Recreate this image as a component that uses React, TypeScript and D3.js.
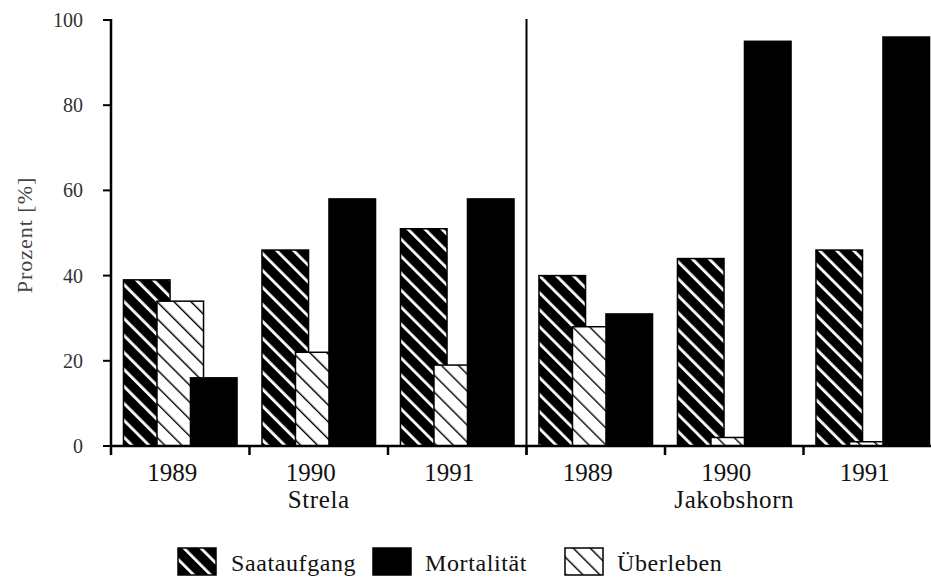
import React from "react";
import * as d3 from "d3";

const years = ["1989", "1990", "1991"];
const sites = ["Strela", "Jakobshorn"];
const categories = ["Strela 1989", "Strela 1990", "Strela 1991", "Jakobshorn 1989", "Jakobshorn 1990", "Jakobshorn 1991"];
const saataufgang = [39, 46, 51, 40, 44, 46];
const ueberleben = [34, 22, 19, 28, 2, 1];
const mortalitaet = [16, 58, 58, 31, 95, 96];
const yTicks = [0, 20, 40, 60, 80, 100];
const seriesNames = ["Saataufgang", "Überleben", "Mortalität"];
const legendOrder = ["Saataufgang", "Mortalität", "Überleben"];

const W = 931;
const H = 578;
const FONT = "'Liberation Serif', 'DejaVu Serif', Times, serif";

export default function App() {
  const x = d3.scaleBand<string>().domain(categories).range([111, 942]).paddingInner(0.18).paddingOuter(0.09);
  const y = d3.scaleLinear().domain([0, 100]).range([446, 20]);
  const bw = x.bandwidth();
  const barW = bw * 0.41;
  const sub = d3.scalePoint<string>().domain(seriesNames).range([0, bw - barW]);
  const values: Record<string, number[]> = {
    Saataufgang: saataufgang,
    "Überleben": ueberleben,
    "Mortalität": mortalitaet,
  };
  const fills: Record<string, string> = {
    Saataufgang: "url(#patSaat)",
    "Überleben": "url(#patUeb)",
    "Mortalität": "#000",
  };
  const half = (x.step() - bw) / 2;
  const boundaries = categories.slice(1).map((c) => (x(c) as number) - half);
  const sepX = boundaries[2];
  const y0 = y(0);
  const legendX: Record<string, [number, number]> = {
    Saataufgang: [178, 231],
    "Mortalität": [373, 425],
    "Überleben": [565, 617],
  };

  return (
    <svg width={W} height={H} style={{ position: "absolute", left: 0, top: 0, background: "#fff" }} fontFamily={FONT}>
      <defs>
        <pattern id="patSaat" patternUnits="userSpaceOnUse" width={12} height={12} patternTransform="rotate(-45)">
          <rect width={12} height={12} fill="#000" />
          <rect x={5} width={2.8} height={12} fill="#fff" />
        </pattern>
        <pattern id="patUeb" patternUnits="userSpaceOnUse" width={12} height={12} patternTransform="rotate(-45)">
          <rect width={12} height={12} fill="#fff" />
          <rect x={5} width={1.4} height={12} fill="#000" />
        </pattern>
      </defs>
      <rect width={W} height={H} fill="#fff" />

      {categories.map((c, i) => (
        <g key={c}>
          {seriesNames.map((s) => {
            const v = values[s][i];
            const bx = (x(c) as number) + (sub(s) as number);
            return (
              <rect
                key={s}
                x={bx}
                y={y(v)}
                width={barW}
                height={y0 - y(v)}
                fill={fills[s]}
                stroke="#000"
                strokeWidth={1.5}
              />
            );
          })}
        </g>
      ))}

      <line x1={111} x2={111} y1={y(100) - 1} y2={y0 + 9} stroke="#000" strokeWidth={2.5} />
      {yTicks.map((t) => (
        <g key={t}>
          <line x1={103} x2={111} y1={y(t)} y2={y(t)} stroke="#000" strokeWidth={2} />
          <text x={83} y={y(t)} dy="0.35em" textAnchor="end" fontSize={20} fill="#333">
            {t}
          </text>
        </g>
      ))}
      <text
        transform={`translate(24,${(y(0) + y(100)) / 2 + 2}) rotate(-90)`}
        textAnchor="middle"
        dy="0.35em"
        fontSize={22}
        fill="#444"
        letterSpacing={1}
      >
        Prozent [%]
      </text>

      <line x1={111} x2={W} y1={y0} y2={y0} stroke="#000" strokeWidth={2.5} />
      {boundaries.map((b, i) => (
        <line key={i} x1={b} x2={b} y1={y0} y2={y0 + 9} stroke="#000" strokeWidth={2.5} />
      ))}
      <line x1={sepX} x2={sepX} y1={y(100) - 1} y2={y0 + 9} stroke="#000" strokeWidth={2} />

      {categories.map((c, i) => (
        <text
          key={c}
          x={(x(c) as number) + bw / 2 - 8}
          y={481}
          textAnchor="middle"
          fontSize={25}
          fill="#111"
        >
          {years[i % 3]}
        </text>
      ))}
      {sites.map((s, i) => (
        <text
          key={s}
          x={(x(categories[i * 3 + 1]) as number) + bw / 2}
          y={508}
          textAnchor="middle"
          fontSize={25}
          fill="#111"
          letterSpacing={0.6}
        >
          {s}
        </text>
      ))}

      {legendOrder.map((s) => {
        const [sx, tx] = legendX[s];
        return (
          <g key={s}>
            <rect x={sx} y={548} width={38} height={27} fill={fills[s]} stroke="#000" strokeWidth={1.5} />
            <text x={tx} y={571} fontSize={24} fill="#111" letterSpacing={0.6}>
              {s}
            </text>
          </g>
        );
      })}
    </svg>
  );
}
